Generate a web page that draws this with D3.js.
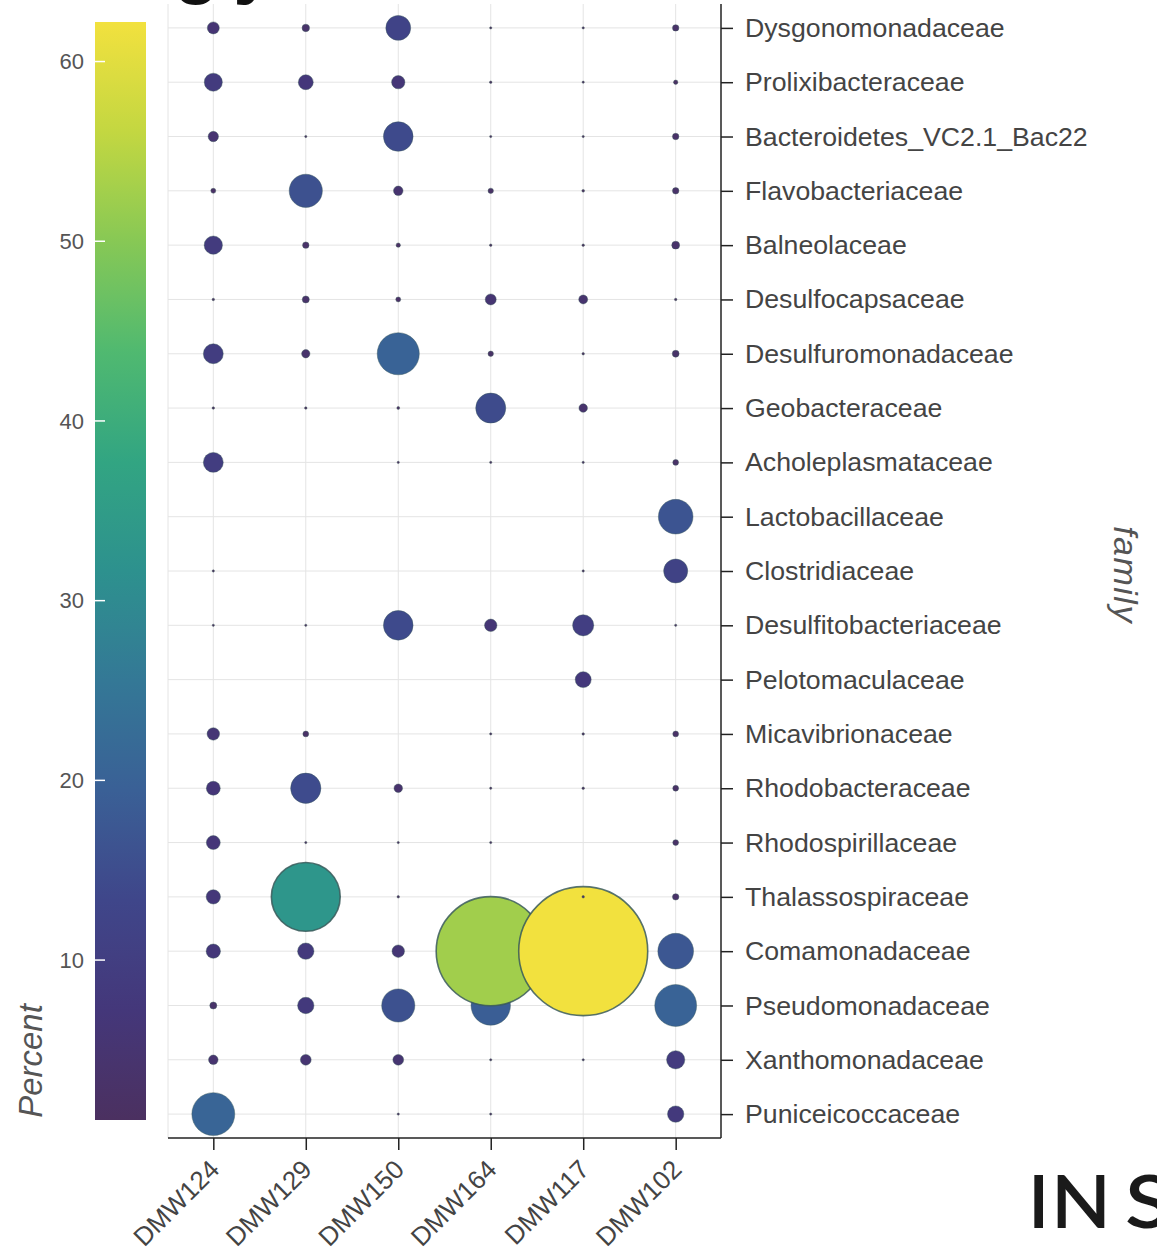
<!DOCTYPE html>
<html>
<head>
<meta charset="utf-8">
<script src="https://cdn.jsdelivr.net/npm/d3@7"></script>
<style>
  body { margin: 0; background: #fff; }
  svg { display: block; }
</style>
</head>
<body>
<svg id="chart" width="1157" height="1255"></svg>
<script>
// Samples along the x axis
const samples = ["DMW124", "DMW129", "DMW150", "DMW164", "DMW117", "DMW102"];

// Families along the y axis, top to bottom
const families = [
  "Dysgonomonadaceae", "Prolixibacteraceae", "Bacteroidetes_VC2.1_Bac22",
  "Flavobacteriaceae", "Balneolaceae", "Desulfocapsaceae", "Desulfuromonadaceae",
  "Geobacteraceae", "Acholeplasmataceae", "Lactobacillaceae", "Clostridiaceae",
  "Desulfitobacteriaceae", "Pelotomaculaceae", "Micavibrionaceae",
  "Rhodobacteraceae", "Rhodospirillaceae", "Thalassospiraceae",
  "Comamonadaceae", "Pseudomonadaceae", "Xanthomonadaceae", "Puniceicoccaceae"
];

// Percent abundance per sample, in the same order as `families` (null = absent)
const pctDMW124 = [5.8, 8.7, 5.0, 2.4, 8.8, 1.2, 9.6, 1.2, 9.6, null, 1.1, 1.1, null, 6.0, 6.7, 6.7, 6.9, 6.9, 3.4, 4.6, 20.7];
const pctDMW129 = [3.6, 7.2, 1.1, 16.0, 3.1, 3.4, 4.0, 1.2, null, null, null, 1.1, null, 2.8, 14.6, 1.1, 33.2, 7.9, 7.9, 5.2, null];
const pctDMW150 = [12.0, 6.4, 14.3, 4.6, 2.1, 2.4, 20.3, 1.4, 1.1, null, null, 14.3, null, null, 4.1, 1.1, 1.2, 6.0, 16.0, 5.2, 1.1];
const pctDMW164 = [1.1, 1.2, 1.1, 2.6, 1.2, 5.3, 2.6, 14.5, 1.1, null, null, 6.0, null, 1.1, 1.1, 1.1, null, 52.6, 19.0, 1.1, 1.1];
const pctDMW117 = [1.1, 1.1, 1.1, 1.3, 1.2, 4.3, 1.2, 4.1, 1.1, null, 1.1, 10.2, 7.7, 1.2, 1.2, null, 1.2, 62.2, null, 1.1, null];
const pctDMW102 = [3.1, 2.1, 3.1, 3.1, 3.8, 1.2, 3.3, null, 2.8, 16.7, 11.6, 1.1, null, 2.8, 2.8, 2.8, 3.1, 17.2, 20.2, 8.8, 7.9];

// Colour bar ticks
const colorTicks = [10, 20, 30, 40, 50, 60];

// Soft viridis-like palette, evenly spaced from low to high
const paletteStops = [
  "#4b3060", "#44377a", "#3f468a", "#3a6096", "#347896", "#2d918e",
  "#32a582", "#50b970", "#87c855", "#c3d741", "#f2e13e"
];

const seriesBySample = {
  DMW124: pctDMW124, DMW129: pctDMW129, DMW150: pctDMW150,
  DMW164: pctDMW164, DMW117: pctDMW117, DMW102: pctDMW102
};

// Long-form records, drawn from the bottom row upwards so that later rows sit on top
const records = [];
for (let fi = families.length - 1; fi >= 0; fi--) {
  samples.forEach(s => {
    const v = seriesBySample[s][fi];
    if (v != null) records.push({ family: families[fi], sample: s, value: v });
  });
}

const svg = d3.select("#chart");
const plot = { left: 168, right: 721, top: 4, bottom: 1138 };
const FONT = "'Liberation Sans', Arial, sans-serif";

const x = d3.scalePoint().domain(samples).range([plot.left, plot.right]).padding(0.49);
const y = d3.scalePoint().domain(families).range([plot.top, plot.bottom]).padding(0.44);

const allValues = records.map(d => d.value);
const vMin = d3.min(allValues), vMax = d3.max(allValues);

const palette = d3.piecewise(d3.interpolateRgb, paletteStops);
const color = d3.scaleSequential(palette).domain([vMin, vMax]);
const radius = d3.scaleLinear().domain([0, vMax]).range([0, 64.5]);

// Page heading, largely above the visible area
svg.append("text")
  .attr("x", 174).attr("y", -10)
  .attr("font-family", FONT).attr("font-weight", "bold")
  .attr("font-size", 74).attr("letter-spacing", 14).attr("fill", "#111")
  .text("gy");

// Grid
const grid = svg.append("g").attr("stroke", "#e4e4e4").attr("stroke-width", 1);
grid.selectAll("line.v").data(samples).join("line")
  .attr("x1", d => x(d)).attr("x2", d => x(d))
  .attr("y1", plot.top).attr("y2", plot.bottom);
grid.selectAll("line.h").data(families).join("line")
  .attr("x1", plot.left).attr("x2", plot.right)
  .attr("y1", d => y(d)).attr("y2", d => y(d));
grid.append("line")
  .attr("x1", plot.left).attr("x2", plot.left)
  .attr("y1", plot.top).attr("y2", plot.bottom);

// Bubbles
svg.append("g").selectAll("circle").data(records).join("circle")
  .attr("cx", d => x(d.sample))
  .attr("cy", d => y(d.family))
  .attr("r", d => radius(d.value))
  .attr("fill", d => color(d.value))
  .attr("stroke", "#3a5a5a")
  .attr("stroke-opacity", 0.85)
  .attr("stroke-width", d => d.value > 25 ? 1.6 : 0.5);

// Bottom axis
const xAxis = svg.append("g")
  .attr("transform", `translate(0,${plot.bottom})`)
  .call(d3.axisBottom(x).tickSize(12).tickPadding(6).tickSizeOuter(0));
xAxis.select(".domain").attr("stroke", "#222").attr("stroke-width", 1.5)
  .attr("d", `M${plot.left},0H${plot.right}`);
xAxis.selectAll(".tick line").attr("stroke", "#222").attr("stroke-width", 1.5);
xAxis.selectAll(".tick text")
  .attr("font-family", FONT).attr("font-size", 26).attr("fill", "#444")
  .attr("text-anchor", "end")
  .attr("transform", "translate(-6,20) rotate(-45)")
  .attr("x", 0).attr("y", 0).attr("dy", "0.71em");

// Right axis with family labels
const yAxis = svg.append("g")
  .attr("transform", `translate(${plot.right},0)`)
  .call(d3.axisRight(y).tickSize(12).tickPadding(12).tickSizeOuter(0));
yAxis.select(".domain").attr("stroke", "#222").attr("stroke-width", 1.5)
  .attr("d", `M0,${plot.top}V${plot.bottom}`);
yAxis.selectAll(".tick line").attr("stroke", "#222").attr("stroke-width", 1.5);
yAxis.selectAll(".tick text")
  .attr("font-family", FONT).attr("font-size", 26.7).attr("fill", "#444");

// Axis title
svg.append("text")
  .attr("transform", "translate(1114,575) rotate(90)")
  .attr("text-anchor", "middle")
  .attr("font-family", FONT).attr("font-style", "italic")
  .attr("font-size", 34).attr("letter-spacing", 1.5).attr("fill", "#555")
  .text("family");

// Colour bar
const bar = { x: 95, w: 51, top: 22, bottom: 1120 };
const cy = d3.scaleLinear().domain([vMin, vMax]).range([bar.bottom, bar.top]);
const defs = svg.append("defs");
const grad = defs.append("linearGradient").attr("id", "palette-bar")
  .attr("x1", 0).attr("y1", 1).attr("x2", 0).attr("y2", 0);
d3.range(0, 1.0001, 0.05).forEach(t => {
  grad.append("stop").attr("offset", t).attr("stop-color", palette(t));
});
svg.append("rect")
  .attr("x", bar.x).attr("y", bar.top)
  .attr("width", bar.w).attr("height", bar.bottom - bar.top)
  .attr("fill", "url(#palette-bar)");

const cAxis = svg.append("g").attr("transform", `translate(${bar.x},0)`);
cAxis.selectAll("line").data(colorTicks).join("line")
  .attr("x1", 0).attr("x2", 10)
  .attr("y1", d => cy(d)).attr("y2", d => cy(d))
  .attr("stroke", "#fff").attr("stroke-width", 1.5);
cAxis.selectAll("text").data(colorTicks).join("text")
  .attr("x", -11).attr("y", d => cy(d))
  .attr("dy", "0.35em").attr("text-anchor", "end")
  .attr("font-family", FONT).attr("font-size", 22).attr("fill", "#555")
  .text(d => d);

svg.append("text")
  .attr("transform", "translate(42,1061) rotate(-90)")
  .attr("text-anchor", "middle")
  .attr("font-family", FONT).attr("font-style", "italic")
  .attr("font-size", 33).attr("fill", "#555")
  .text("Percent");

// Logo wordmark in the lower right
const logo = svg.append("g")
  .attr("font-family", "Lato, 'Open Sans', sans-serif")
  .attr("font-size", 74).attr("font-weight", 600).attr("fill", "#1a1a1a");
logo.append("text").attr("x", 1028).attr("y", 1228).text("I");
logo.append("text").attr("x", 1051).attr("y", 1228)
  .attr("textLength", 60).attr("lengthAdjust", "spacingAndGlyphs").text("N");
logo.append("text").attr("x", 1125).attr("y", 1228)
  .attr("textLength", 46).attr("lengthAdjust", "spacingAndGlyphs").text("S");
</script>
</body>
</html>
